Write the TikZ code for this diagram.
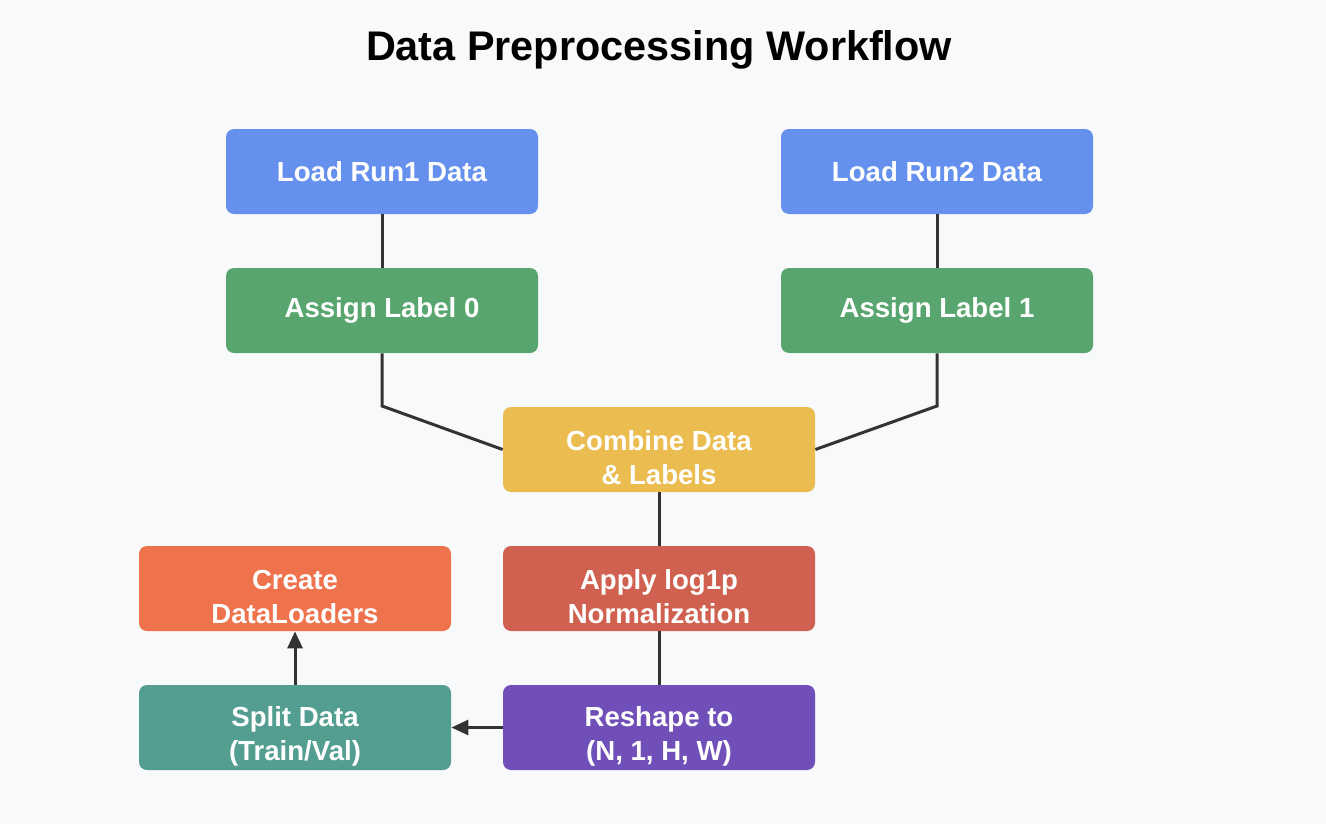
\documentclass[tikz,border=0pt]{standalone}
\usepackage{fontspec}
\setmainfont{Liberation Sans}
\usetikzlibrary{arrows.meta}

\definecolor{bgcol}{HTML}{F8F9FA}
\definecolor{linecol}{HTML}{333333}
\definecolor{loadcol}{HTML}{6690EE}
\definecolor{labelcol}{HTML}{58A56F}
\definecolor{combinecol}{HTML}{EBBC50}
\definecolor{normcol}{HTML}{D06050}
\definecolor{reshapecol}{HTML}{7050B8}
\definecolor{splitcol}{HTML}{539E91}
\definecolor{loadercol}{HTML}{EE724C}

% pushes the first of two lines down a little
\newcommand{\firstline}{\rule{0pt}{18.5pt}}

\begin{document}
\begin{tikzpicture}[
        x=0.5pt, y=-0.5pt,
        box/.style={
            rounded corners=4pt,
            minimum width=156pt,
            minimum height=42.5pt,
            inner ysep=1pt,
            text=white,
            align=center,
            font=\fontsize{13.8}{17}\selectfont\bfseries
        },
        link/.style={draw=linecol, line width=1.5pt},
        arrow/.style={link, -{Triangle[length=8.5pt,width=7.5pt]}}
    ]
            \fill[bgcol] (0,0) rectangle (1326,824);
            \useasboundingbox (0,0) rectangle (1326,824);

            \node[
                font=\fontsize{20.7}{24}\selectfont\bfseries,
                name=title
            ] at (659,50) {Data Preprocessing Workflow};

            \node[
                box,
                fill=loadcol,
                name=load1
            ] at (382,171.5) {Load Run1 Data};
            \node[
                box,
                fill=loadcol,
                name=load2
            ] at (937,171.5) {Load Run2 Data};

            \node[
                box,
                fill=labelcol,
                name=assign0
            ] at (382,310.5) {Assign Label 0};
            \node[
                box,
                fill=labelcol,
                name=assign1
            ] at (937,310.5) {Assign Label 1};

            \node[
                box,
                fill=combinecol,
                name=combine
            ] at (659,449.5) {\firstline Combine Data\\\& Labels};

            \node[
                box,
                fill=normcol,
                name=norm
            ] at (659,588.5) {\firstline Apply log1p\\Normalization};

            \node[
                box,
                fill=reshapecol,
                name=reshape
            ] at (659,727.5) {\firstline Reshape to\\(N, 1, H, W)};

            \node[
                box,
                fill=splitcol,
                name=split
            ] at (295,727.5) {\firstline Split Data\\(Train/Val)};

            \node[
                box,
                fill=loadercol,
                name=loaders
            ] at (295,588.5) {\firstline Create\\DataLoaders};

            \coordinate (bend0) at (382,406);
            \coordinate (bend1) at (937,406);

            \draw[link] (load1) -- (assign0);
            \draw[link] (load2) -- (assign1);

            \draw[link] (assign0) -- (bend0) -- (combine.west);
            \draw[link] (assign1) -- (bend1) -- (combine.east);

            \draw[link] (combine) -- (norm);
            \draw[link] (norm) -- (reshape);

            \draw[arrow] (reshape) -- (split);
            \draw[arrow] (split) -- (loaders);
        \end{tikzpicture}
\end{document}
